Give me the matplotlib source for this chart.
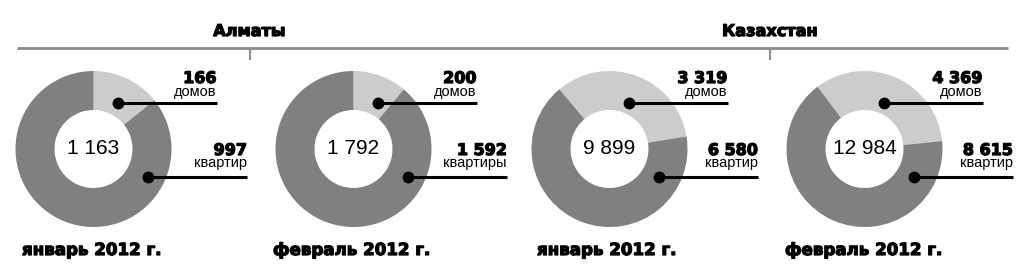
import matplotlib
matplotlib.use("Agg")
import matplotlib.pyplot as plt
import matplotlib.patheffects as pe

# ── Data ─────────────────────────────────────────────────────────────────────
regions   = ["Алматы", "Казахстан"]
periods   = ["январь 2012 г.", "февраль 2012 г.", "январь 2012 г.", "февраль 2012 г."]
houses    = [166, 200, 3319, 4369]
apts      = [997, 1592, 6580, 8615]
house_lbl = ["домов", "домов", "домов", "домов"]
apt_lbl   = ["квартир", "квартиры", "квартир", "квартир"]

LIGHT = "#cccccc"
DARK  = "#808080"

W, H = 1024, 275
fig = plt.figure(figsize=(W / 100, H / 100), dpi=100)
ax = fig.add_axes([0, 0, 1, 1])

def Y(y):  # pixel row (top-down) -> axis y
    return H - y

# layout (pixels)
cx      = [93.5, 353.5, 609.5, 864.5]
cy      = 149
anchor  = [93.5, 353.5, 604.5, 859.5]
starts  = [90, 90, 130, 127]
R, RIN  = 78, 39
per_x   = [22, 273, 537, 785]
reg_x   = [249.5, 770]

def fmt(v):
    return f"{v:,}".replace(",", " ")

# heavy look: DejaVu bold with a thin outline
HEAVY = [pe.withStroke(linewidth=0.9, foreground="black")]
BOLD = dict(family="DejaVu Sans", fontweight="bold", color="black",
            path_effects=HEAVY)
REG  = dict(family="Liberation Sans", color="black")

for i in range(4):
    ax.pie([houses[i], apts[i]], colors=[LIGHT, DARK], startangle=starts[i],
           counterclock=False, center=(cx[i], Y(cy)), radius=R, frame=True,
           wedgeprops=dict(width=R - RIN, linewidth=0))
    ax.text(cx[i], Y(cy), fmt(houses[i] + apts[i]), ha="center", va="center",
            fontsize=15, **REG)

    a = anchor[i]
    # houses callout
    ax.plot([a + 24, a + 123], [Y(cy - 46)] * 2, color="black", lw=2.2,
            solid_capstyle="butt", zorder=5)
    ax.plot(a + 24, Y(cy - 46), "o", color="black", ms=7.5, zorder=6)
    ax.text(a + 123, Y(cy - 66), fmt(houses[i]), ha="right", va="baseline",
            fontsize=11.5, **BOLD)
    ax.text(a + 123, Y(cy - 53), house_lbl[i], ha="right", va="baseline",
            fontsize=10.5, **REG)
    # apartments callout
    ax.plot([a + 54.5, a + 153.5], [Y(cy + 28)] * 2, color="black", lw=2.2,
            solid_capstyle="butt", zorder=5)
    ax.plot(a + 54.5, Y(cy + 28), "o", color="black", ms=7.5, zorder=6)
    ax.text(a + 153.5, Y(cy + 6), fmt(apts[i]), ha="right", va="baseline",
            fontsize=11.5, **BOLD)
    ax.text(a + 153.5, Y(cy + 18.5), apt_lbl[i], ha="right", va="baseline",
            fontsize=10.5, **REG)

    ax.text(per_x[i], Y(255), periods[i], ha="left", va="baseline",
            fontsize=12, **BOLD)

# header
ax.plot([17, 1008], [Y(47.5)] * 2, color="#8c8c8c", lw=2, solid_capstyle="butt")
for x, name in zip(reg_x, regions):
    ax.plot([x, x], [Y(47.5), Y(60)], color="#8c8c8c", lw=1.5, solid_capstyle="butt")
    ax.text(x, Y(36), name, ha="center", va="baseline", fontsize=11.6, **BOLD)

ax.set_xlim(0, W)
ax.set_ylim(0, H)
ax.set_aspect("auto")
ax.axis("off")

fig.savefig("out.png", dpi=100, facecolor="white")
